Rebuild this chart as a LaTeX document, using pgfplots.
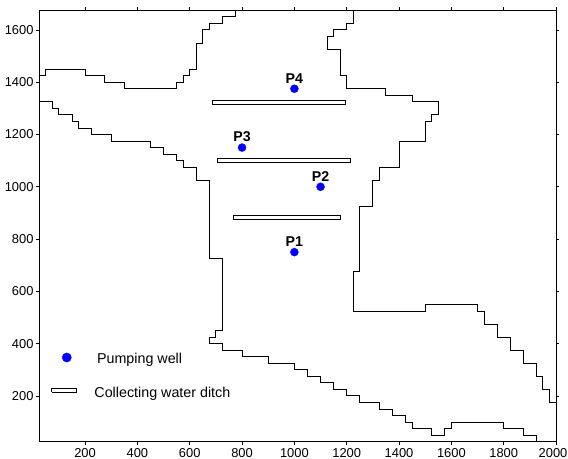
\documentclass[border=0pt]{standalone}
\usepackage{pgfplots}
\usepackage{fontspec}
\setmainfont{Liberation Sans}
\pgfplotsset{compat=1.18}
\begin{document}
\begin{tikzpicture}[x=1bp,y=1bp]
\path[use as bounding box] (-39.3bp,-17.3bp) rectangle (528.7bp,441.7bp);
\begin{axis}[
  at={(0bp,0bp)},anchor=south west,
  scale only axis,width=516.7bp,height=431.4bp,
  xmin=25,xmax=2000,ymin=25,ymax=1675,
  xtick={200,400,...,2000},ytick={200,400,...,1600},
  xticklabels={200,400,600,800,1000,1200,1400,1600,1800,\kern-6bp 2000},
  tick align=outside,major tick length=2.8bp,
  tick style={black,line width=0.6bp},
  axis line style={black,line width=0.9bp},
  /pgf/number format/assume math mode=true,
  /pgf/number format/1000 sep={},
  tick label style={font=\fontsize{12.9bp}{14bp}\selectfont},
  xticklabel style={yshift=-0.5bp},
  yticklabel style={xshift=0.5bp},
  clip=false,
]
% upper-left boundary
\addplot[black,line width=0.9bp] coordinates {
(25,1425)(50,1425)(50,1450)(200,1450)(200,1425)(275,1425)(275,1400)(350,1400)(350,1375)(550,1375)(550,1400)(575,1400)(575,1425)(600,1425)(600,1450)(625,1450)(625,1550)(650,1550)(650,1600)(675,1600)(675,1625)(725,1625)(725,1650)(775,1650)(775,1675)};
% lower-left boundary
\addplot[black,line width=0.9bp] coordinates {
(25,1325)(75,1325)(75,1300)(100,1300)(100,1275)(150,1275)(150,1250)(175,1250)(175,1225)(225,1225)(225,1200)(300,1200)(300,1175)(450,1175)(450,1150)(500,1150)(500,1125)(550,1125)(550,1100)(575,1100)(575,1075)(625,1075)(625,1025)(675,1025)(675,725)(725,725)(725,450)(700,450)(700,425)(675,425)(675,400)(725,400)(725,375)(800,375)(800,350)(900,350)(900,325)(1000,325)(1000,300)(1050,300)(1050,275)(1100,275)(1100,250)(1150,250)(1150,225)(1200,225)(1200,200)(1250,200)(1250,175)(1325,175)(1325,150)(1375,150)(1375,125)(1425,125)(1425,100)(1450,100)(1450,75)(1525,75)(1525,50)(1575,50)(1575,75)(1600,75)(1600,100)(1800,100)(1800,75)(1875,75)(1875,50)(1925,50)(1925,25)(2000,25)};
% right boundary
\addplot[black,line width=0.9bp] coordinates {
(1225,1675)(1225,1625)(1200,1625)(1200,1600)(1150,1600)(1150,1575)(1125,1575)(1125,1525)(1175,1525)(1175,1425)(1200,1425)(1200,1375)(1350,1375)(1350,1350)(1450,1350)(1450,1325)(1550,1325)(1550,1275)(1525,1275)(1525,1250)(1500,1250)(1500,1175)(1400,1175)(1400,1075)(1325,1075)(1325,1025)(1300,1025)(1300,925)(1250,925)(1250,675)(1225,675)(1225,525)(1500,525)(1500,550)(1700,550)(1700,525)(1725,525)(1725,475)(1775,475)(1775,425)(1825,425)(1825,375)(1875,375)(1875,325)(1925,325)(1925,275)(1950,275)(1950,225)(1975,225)(1975,175)(2000,175)(2000,25)};
% collecting water ditches
\addplot[black,line width=0.9bp] coordinates {(687,1316)(1195,1316)(1195,1332)(687,1332)(687,1316)};
\addplot[black,line width=0.9bp] coordinates {(706,1094)(1214,1094)(1214,1110)(706,1110)(706,1094)};
\addplot[black,line width=0.9bp] coordinates {(767,875)(1177,875)(1177,892)(767,892)(767,875)};
\addplot[black,line width=0.9bp] coordinates {(72,214)(168,214)(168,229)(72,229)(72,214)};
% wells
\addplot[only marks,mark=*,mark size=4bp,blue,mark options={fill=blue,draw=blue}] coordinates {(1000,750)(1100,1000)(800,1150)(1000,1375)};
\addplot[only marks,mark=*,mark size=4.6bp,blue,mark options={fill=blue,draw=blue}] coordinates {(130,347)};
\begin{scope}[every node/.style={font=\fontsize{14.2bp}{16bp}\selectfont\bfseries,inner sep=0pt}]
\node at (axis cs:1000,1414) {P4};
\node at (axis cs:800,1192) {P3};
\node at (axis cs:1100,1041) {P2};
\node at (axis cs:1000,790) {P1};
\end{scope}
\begin{scope}[every node/.style={font=\fontsize{14.3bp}{16bp}\selectfont,inner sep=0pt,anchor=west}]
\node at (axis cs:245,340) {Pumping well};
\node at (axis cs:235,208) {Collecting water ditch};
\end{scope}
\end{axis}
\end{tikzpicture}
\end{document}
